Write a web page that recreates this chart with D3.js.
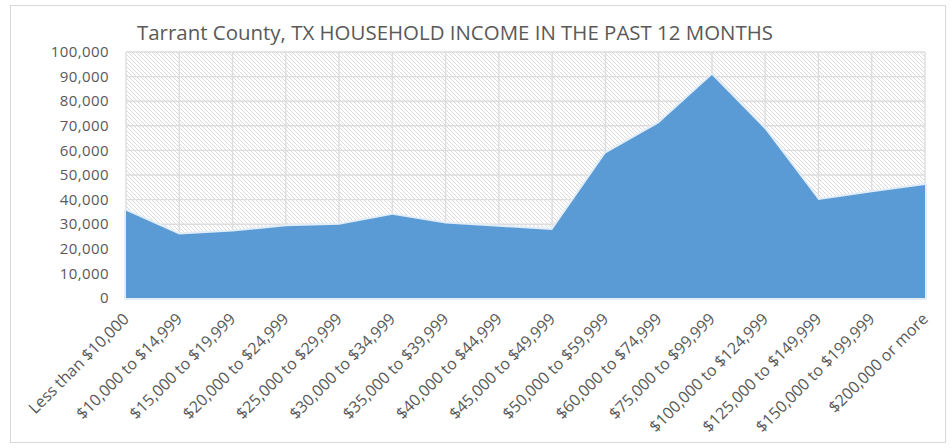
<!DOCTYPE html>
<html>
<head>
<meta charset="utf-8">
<script src="https://cdn.jsdelivr.net/npm/d3@7"></script>
<style>
  body { margin: 0; background: #fff; }
  text { font-family: "Open Sans", "Noto Sans", sans-serif; fill: #595959; }
</style>
</head>
<body>
<svg id="chart" width="951" height="448"></svg>
<script>
// Household income distribution, Tarrant County, TX
const chartTitle = "Tarrant County, TX HOUSEHOLD INCOME IN THE PAST 12 MONTHS";

const categories = [
  "Less than $10,000", "$10,000 to $14,999", "$15,000 to $19,999", "$20,000 to $24,999",
  "$25,000 to $29,999", "$30,000 to $34,999", "$35,000 to $39,999", "$40,000 to $44,999",
  "$45,000 to $49,999", "$50,000 to $59,999", "$60,000 to $74,999", "$75,000 to $99,999",
  "$100,000 to $124,999", "$125,000 to $149,999", "$150,000 to $199,999", "$200,000 or more"
];

const households = [
  35500, 25800, 27000, 29200, 29800, 33800, 30300, 29000,
  27600, 58700, 71000, 90600, 68500, 39800, 43000, 45900
];

const yTicks = [0, 10000, 20000, 30000, 40000, 50000, 60000, 70000, 80000, 90000, 100000];

const svg = d3.select("#chart");
const plot = { left: 126, right: 925, top: 52, bottom: 298 };

const x = d3.scalePoint().domain(categories).range([plot.left, plot.right]);
const y = d3.scaleLinear().domain([0, 100000]).range([plot.bottom, plot.top]);

// outer chart frame
svg.append("rect")
  .attr("x", 10.5).attr("y", 5.5)
  .attr("width", 935).attr("height", 437)
  .attr("fill", "#fff").attr("stroke", "#d9d9d9").attr("stroke-width", 1);

// diagonal hatch fill for the plot area
const defs = svg.append("defs");
defs.append("pattern")
  .attr("id", "hatch")
  .attr("patternUnits", "userSpaceOnUse")
  .attr("width", 4).attr("height", 4)
  .append("path")
  .attr("d", "M-1,-1 L5,5 M3,-1 L5,1 M-1,3 L1,5")
  .attr("stroke", "#d0d0d0")
  .attr("stroke-width", 0.8);

svg.append("rect")
  .attr("x", plot.left).attr("y", plot.top)
  .attr("width", plot.right - plot.left)
  .attr("height", plot.bottom - plot.top)
  .attr("fill", "url(#hatch)");

// gridlines
const grid = svg.append("g");
grid.selectAll("line.h").data(yTicks).join("line")
  .attr("class", "h")
  .attr("x1", plot.left).attr("x2", plot.right)
  .attr("y1", d => y(d)).attr("y2", d => y(d))
  .attr("stroke", "#dddddd").attr("stroke-width", 1.4);
grid.selectAll("line.v").data(categories).join("line")
  .attr("class", "v")
  .attr("x1", d => x(d)).attr("x2", d => x(d))
  .attr("y1", plot.top).attr("y2", plot.bottom)
  .attr("stroke", "#dddddd").attr("stroke-width", 1.4);

// area series with a pale halo around its edge
const area = d3.area()
  .x((d, i) => x(categories[i]))
  .y0(y(0))
  .y1(d => y(d));

svg.append("path")
  .datum(households)
  .attr("d", area)
  .attr("fill", "#e2edf8")
  .attr("stroke", "#e2edf8")
  .attr("stroke-width", 4)
  .attr("stroke-linejoin", "round");

svg.append("path")
  .datum(households)
  .attr("d", area)
  .attr("fill", "#5b9bd5");

// y axis labels
const fmt = d3.format(",");
svg.append("g").selectAll("text").data(yTicks).join("text")
  .attr("x", 109)
  .attr("y", d => y(d))
  .attr("dy", "0.35em")
  .attr("text-anchor", "end")
  .attr("font-size", 15)
  .attr("letter-spacing", 0.4)
  .attr("fill", "#666")
  .text(d => fmt(d));

// x axis labels, rotated
svg.append("g").selectAll("text").data(categories).join("text")
  .attr("transform", d => `translate(${x(d) + 4},${plot.bottom + 22}) rotate(-45)`)
  .attr("text-anchor", "end")
  .attr("font-size", 16)
  .attr("fill", "#666")
  .text(d => d);

// title
svg.append("text")
  .attr("x", 137)
  .attr("y", 40)
  .attr("font-size", 19.5)
  .attr("textLength", 636)
  .attr("lengthAdjust", "spacingAndGlyphs")
  .text(chartTitle);
</script>
</body>
</html>
